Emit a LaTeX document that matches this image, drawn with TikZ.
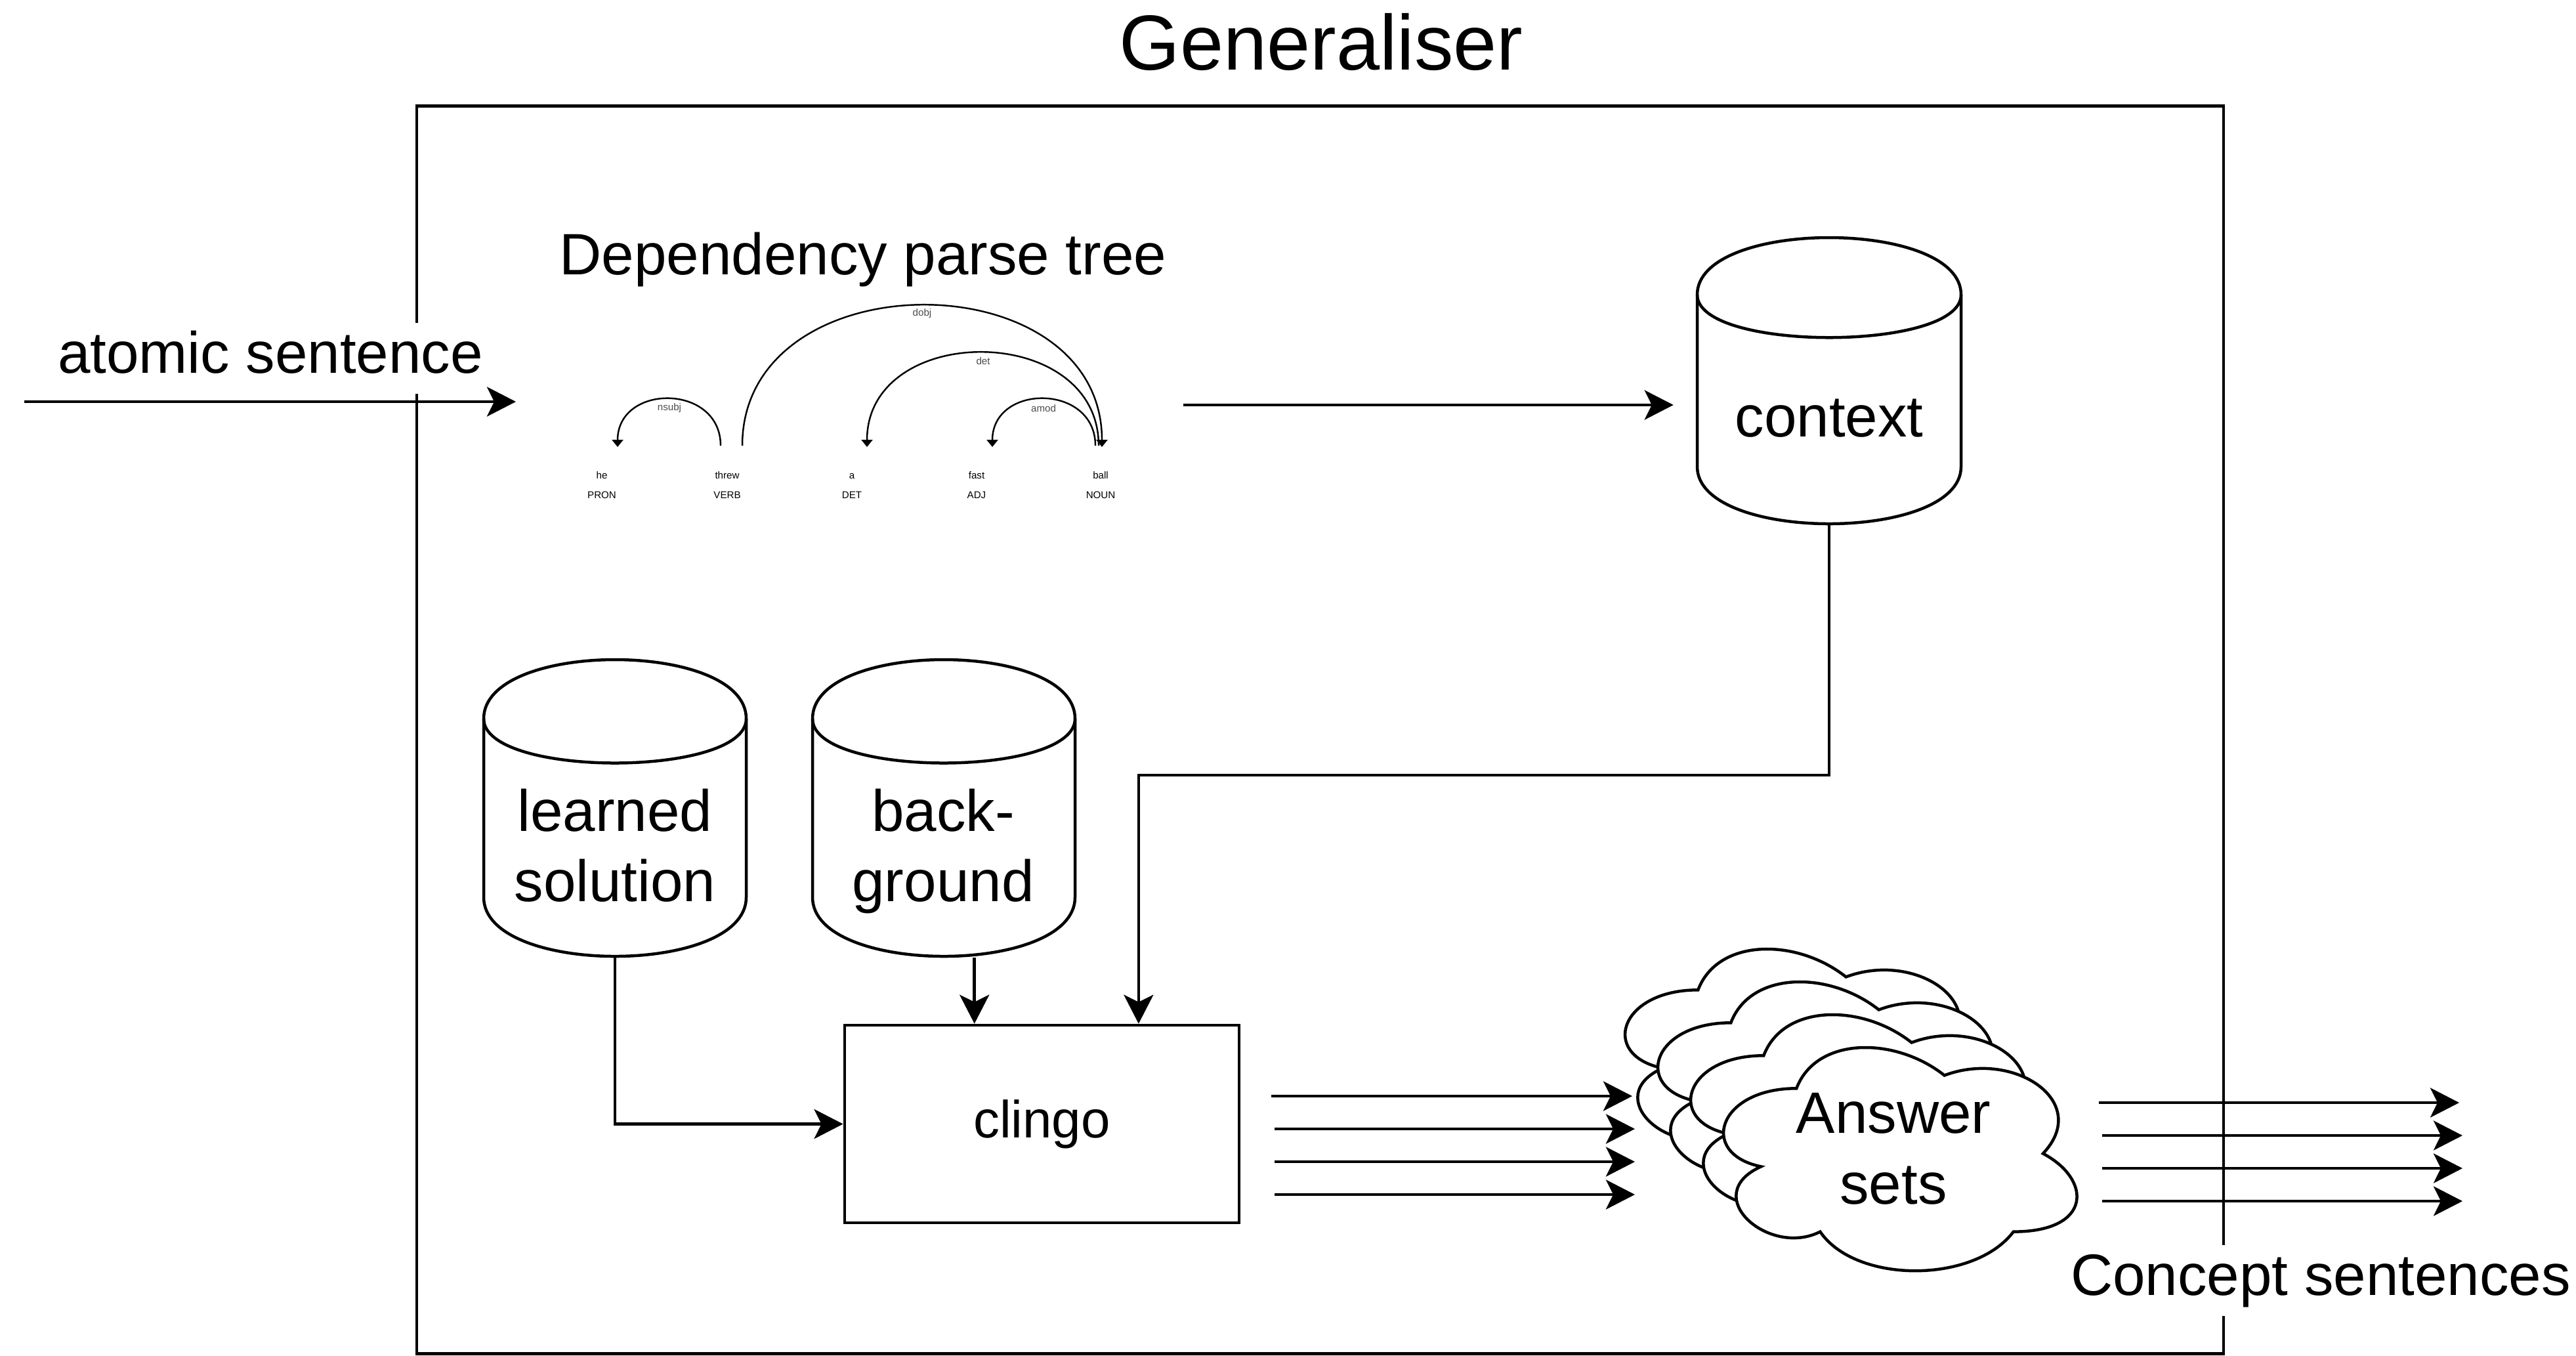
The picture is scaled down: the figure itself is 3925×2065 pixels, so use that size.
\documentclass[tikz,border=0pt]{standalone}
\usepackage{fontspec}
\setmainfont{Liberation Sans}
\usetikzlibrary{arrows.meta}
\newcommand\mainfs{\fontsize{25.3}{30}\selectfont}
\newcommand\titlefs{\fontsize{33.8}{40}\selectfont}
\newcommand\clingofs{\fontsize{22.7}{27}\selectfont}
\newcommand\tinyfs{\fontsize{4.3}{5}\selectfont}
% cylinder outline in the draw.io manner: name, x, y, w, h, dy (pixels)
\newcommand\dbcyl[6]{%
  \path[draw, fill=white] (#2,#3+#6) .. controls (#2,#3-#6/3) and (#2+#4,#3-#6/3) .. (#2+#4,#3+#6)
    -- (#2+#4,#3+#5-#6) .. controls (#2+#4,#3+#5+#6/3) and (#2,#3+#5+#6/3) .. (#2,#3+#5-#6) -- cycle;
  \draw (#2,#3+#6) .. controls (#2,#3+2*#6) and (#2+#4,#3+2*#6) .. (#2+#4,#3+#6);
  \node[cylbox, minimum width=#4*0.01cm, minimum height=#5*0.01cm] (#1) at (#2+#4/2,#3+#5/2) {};
}
% cloud outline in the draw.io manner: x, y, w, h
\newcommand\cloudshape[4]{%
  \draw[fill=white] (#1+0.25*#3,#2+0.25*#4)
    .. controls (#1+0.05*#3,#2+0.25*#4) and (#1,#2+0.5*#4) .. (#1+0.16*#3,#2+0.55*#4)
    .. controls (#1,#2+0.66*#4) and (#1+0.18*#3,#2+0.9*#4) .. (#1+0.31*#3,#2+0.8*#4)
    .. controls (#1+0.4*#3,#2+#4) and (#1+0.7*#3,#2+#4) .. (#1+0.8*#3,#2+0.8*#4)
    .. controls (#1+#3,#2+0.8*#4) and (#1+#3,#2+0.6*#4) .. (#1+0.875*#3,#2+0.5*#4)
    .. controls (#1+#3,#2+0.3*#4) and (#1+0.8*#3,#2+0.1*#4) .. (#1+0.625*#3,#2+0.2*#4)
    .. controls (#1+0.5*#3,#2+0.05*#4) and (#1+0.3*#3,#2+0.05*#4) .. (#1+0.25*#3,#2+0.25*#4) -- cycle;
}
\begin{document}
\begin{tikzpicture}[x=0.01cm,y=-0.01cm,
  line width=1.28pt,
  conn/.style={draw, -{Stealth[length=0.44cm,width=0.45cm,inset=0.11cm]}},
  treearc/.style={line width=0.7pt, -{Triangle[length=0.11cm,width=0.17cm]}},
  txt/.style={font=\mainfs, inner sep=0pt, anchor=base},
  ttxt/.style={font=\tinyfs, inner sep=0pt, anchor=base},
  arclab/.style={font=\tinyfs, text=black!70, inner sep=0pt},
  cylbox/.style={inner sep=0pt, draw=none},
  lbl/.style={txt, fill=white, text height=0.76cm, text depth=0.32cm, inner xsep=0.1cm}
]
\useasboundingbox (0,0) rectangle (3925,2065);

% frame and title
\node[draw, inner sep=0pt, minimum width=27.51cm, minimum height=19cm] (frame) at (2011.5,1112) {};
\node[font=\titlefs, inner sep=0pt, anchor=base] (title) at (2013,106) {Generaliser};

% outside labels (they hide the frame line behind them)
\node[lbl] (atomic) at (412,568) {atomic sentence};
\node[lbl] (concept) at (3536,1973) {Concept sentences};

% input arrow
\coordinate (inA) at (37,612);
\coordinate (inB) at (786,612);
\draw[conn] (inA) -- (inB);

% dependency parse tree
\node[txt] (deptitle) at (1315,418) {Dependency parse tree};
\foreach \n/\xx/\w/\t in {1/917/he/PRON, 2/1108/threw/VERB, 3/1298/a/DET, 4/1488/fast/ADJ, 5/1677/ball/NOUN}{
  \node[ttxt] (w\n) at (\xx,729) {\w};
  \node[ttxt] (t\n) at (\xx,759) {\t};
}
\draw[treearc] (1098,679) .. controls (1098,584) and (941,584) .. (941,681);
\draw[treearc] (1131,679) .. controls (1131,394) and (1679,394) .. (1679,681);
\draw[treearc] (1674,679) .. controls (1674,490) and (1321,490) .. (1321,681);
\draw[treearc] (1669,679) .. controls (1669,584) and (1512,584) .. (1512,681);
\node[arclab] (lnsubj) at (1020,622) {nsubj};
\node[arclab] (ldobj) at (1405,478) {dobj};
\node[arclab] (ldet) at (1498,550) {det};
\node[arclab] (lamod) at (1590,622) {amod};

% cylinders
\dbcyl{ctx}{2586}{362}{402}{436}{87}
\dbcyl{lsol}{737}{1005}{400}{452}{90}
\dbcyl{bg}{1238}{1005}{400}{452}{90}
\node[txt] (ctxt) at (2787,665) {context};
\node[txt] (lsol1) at (937,1266) {learned};
\node[txt] (lsol2) at (937,1373) {solution};
\node[txt] (bg1) at (1437,1266) {back-};
\node[txt] (bg2) at (1437,1373) {ground};

% tree to context
\coordinate (treeout) at (1803,617);
\draw[conn, shorten >=0.34cm] (treeout) -- (treeout -| ctx.west);

% clingo
\node[draw, minimum width=6.01cm, minimum height=3.01cm, font=\clingofs, inner sep=0pt] (clingo) at (1587.5,1712.5) {clingo};
\draw[conn] (lsol.south) |- (clingo.west);
\coordinate (bgin) at ([xshift=2cm]clingo.north west);
\draw[conn] (bg.south -| bgin) -- (bgin);
\coordinate (ctxin) at ([xshift=4.5cm]clingo.north west);
\draw[conn] (ctx.south) -- (ctx.south |- 0,1181) -| (ctxin);

% answer set clouds
\cloudshape{2437}{1409}{601}{397}
\cloudshape{2487}{1459}{601}{397}
\cloudshape{2537}{1509}{601}{397}
\cloudshape{2587}{1559}{601}{397}
\node[txt] (ans1) at (2885,1726) {Answer};
\node[txt] (ans2) at (2885,1834) {sets};

% clingo to answer sets
\foreach \yy/\xs/\xe [count=\i] in {1670/1937/2487, 1720/1942/2491, 1770/1942/2491, 1820/1942/2491}{
  \coordinate (o\i) at (\xs,\yy);
  \coordinate (c\i) at (\xe,\yy);
  \draw[conn] (o\i) -- (c\i);
}
% answer sets to concept sentences
\foreach \yy/\xs/\xe [count=\i] in {1680/3198/3747, 1730/3203/3752, 1780/3203/3752, 1830/3203/3752}{
  \coordinate (p\i) at (\xs,\yy);
  \coordinate (q\i) at (\xe,\yy);
  \draw[conn] (p\i) -- (q\i);
}
\end{tikzpicture}
\end{document}
